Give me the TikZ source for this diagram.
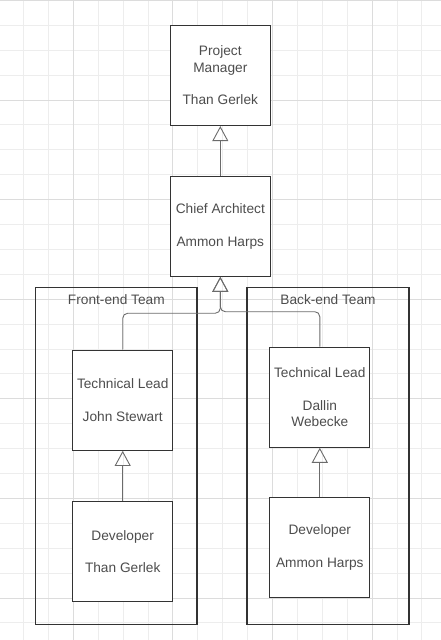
\documentclass[tikz,border=0pt]{standalone}
\usepackage{fontspec}
\setmainfont{Liberation Sans}
\usetikzlibrary{arrows.meta,positioning,calc}
\definecolor{boxgray}{HTML}{333333}
\definecolor{textgray}{HTML}{4D4D4D}
\definecolor{linkgray}{HTML}{6B6B6B}
\definecolor{minorgrid}{HTML}{EDEDED}
\definecolor{majorgrid}{HTML}{DCDCDC}
\tikzset{
 role/.style={draw=boxgray, fill=white, line width=1.2pt,
  minimum width=100pt, minimum height=100pt, inner sep=0pt,
  align=center, text=textgray, font=\fontsize{13.7}{16.4}\selectfont},
 team/.style={draw=boxgray, line width=1.2pt, inner sep=0pt},
 teamtitle/.style={anchor=north, inner sep=8pt, text=textgray,
  font=\fontsize{13.7}{16.4}\selectfont},
 reports/.style={draw=linkgray, line width=0.9pt,
  -{Triangle[open, length=15pt, width=16pt]}},
 gridminor/.style={draw=minorgrid, line width=0.8pt},
 gridmajor/.style={draw=majorgrid, line width=0.8pt}
}

\begin{document}
\begin{tikzpicture}[x=1pt, y=-1pt]
 \useasboundingbox (0,0) rectangle (441,640);

 % background grid
 \foreach \k in {0,...,18}
  \draw [gridminor] (-1.5+24.9*\k, 0) -- (-1.5+24.9*\k, 640);
 \foreach \k in {0,...,25}
  \draw [gridminor] (0, 0.3+24.9*\k) -- (441, 0.3+24.9*\k);
 \foreach \k in {3,7,11,15}
  \draw [gridmajor] (-1.5+24.9*\k, 0) -- (-1.5+24.9*\k, 640);
 \foreach \k in {0,4,...,24}
  \draw [gridmajor] (0, 0.3+24.9*\k) -- (441, 0.3+24.9*\k);

 % teams
 \node [team, minimum width=161.3pt, minimum height=337.3pt,
  label={[teamtitle]north:Front-end Team}] (frontend) at (116.35, 455.95) {};
 \node [team, minimum width=162pt, minimum height=337pt,
  label={[teamtitle]north:Back-end Team}] (backend) at (328, 455.8) {};

 % people
 \node [role] (pm) at (220.3, 75.5) {Project\\Manager\\[16.4pt]Than Gerlek};
 \node [role, below=49.5pt of pm] (chief) {Chief Architect\\[16.4pt]Ammon Harps};
 \node [role] (lead1) at (122.7, 400.3) {Technical Lead\\[16.4pt]John Stewart};
 \node [role] (lead2) at (319.8, 397.2) {Technical Lead\\[16.4pt]Dallin\\Webecke};
 \node [role, below=50pt of lead1] (dev1) {Developer\\[16.4pt]Than Gerlek};
 \node [role, below=49pt of lead2] (dev2) {Developer\\[16.4pt]Ammon Harps};

 % reporting lines
 \draw [reports] (chief) -- (pm);
 \coordinate (forkL) at ($(lead1.north)!.5!(chief.south)$);
 \coordinate (forkR) at ($(lead2.north)!.5!(chief.south)$);
 \draw [reports, rounded corners=5pt] (lead1.north) |- (forkL) -| (chief.south);
 \draw [reports, rounded corners=5pt] (lead2.north) |- (forkR) -| (chief.south);
 \draw [reports] (dev1) -- (lead1);
 \draw [reports] (dev2) -- (lead2);
\end{tikzpicture}
\end{document}
